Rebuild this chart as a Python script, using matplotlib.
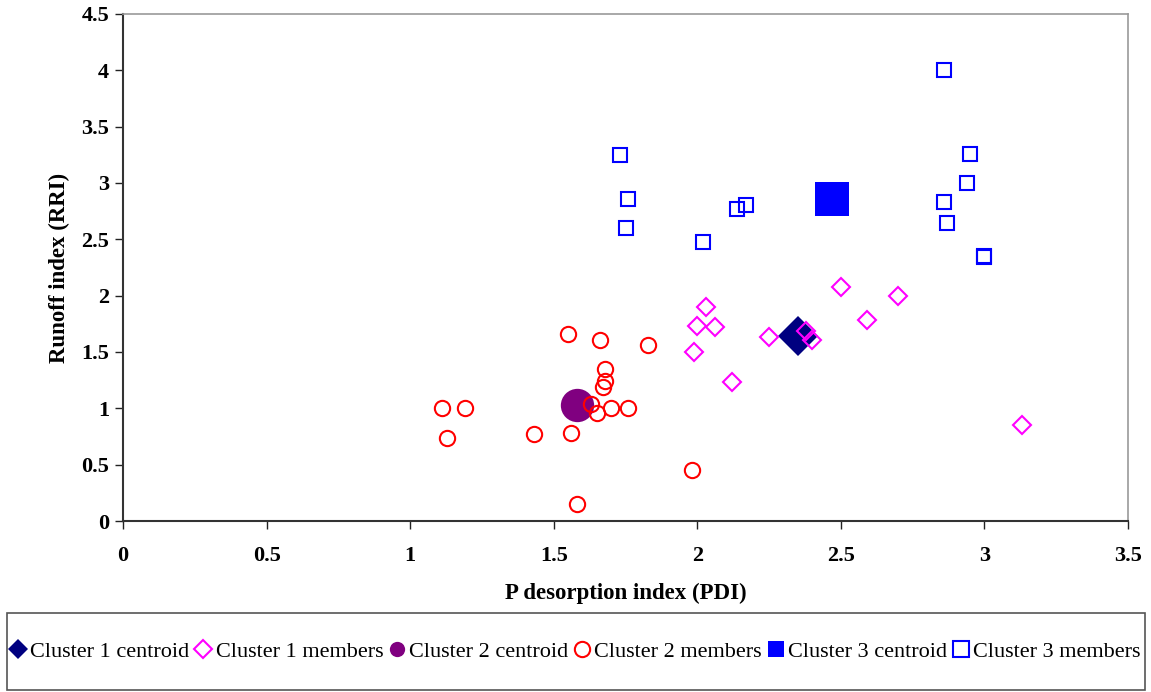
import matplotlib.pyplot as plt
from matplotlib.patches import Rectangle

plt.rcParams['font.family'] = ['Liberation Serif', 'DejaVu Serif']

# cluster 1 (magenta diamonds)
c1_centroid = (2.35, 1.64)
c1_x = [2.03, 2.00, 2.06, 1.99, 2.12, 2.25, 2.38, 2.40, 2.50, 2.59, 2.70, 3.13]
c1_y = [1.90, 1.73, 1.72, 1.50, 1.23, 1.63, 1.69, 1.61, 2.08, 1.78, 2.00, 0.85]

# cluster 2 (red circles)
c2_centroid = (1.58, 1.03)
c2_x = [1.55, 1.66, 1.83, 1.68, 1.68, 1.67, 1.63, 1.65, 1.70, 1.76,
        1.11, 1.19, 1.13, 1.43, 1.56, 1.98, 1.58]
c2_y = [1.66, 1.61, 1.56, 1.35, 1.24, 1.19, 1.04, 0.96, 1.00, 1.00,
        1.00, 1.00, 0.74, 0.77, 0.78, 0.45, 0.15]

# cluster 3 (blue squares)
c3_centroid = (2.47, 2.86)
c3_x = [1.73, 1.76, 1.75, 2.02, 2.14, 2.17, 2.86, 2.95, 2.94, 2.86, 2.87, 3.00, 3.00]
c3_y = [3.25, 2.86, 2.60, 2.48, 2.77, 2.80, 4.00, 3.26, 3.00, 2.83, 2.64, 2.35, 2.34]

x_ticks = [0, 0.5, 1, 1.5, 2, 2.5, 3, 3.5]
y_ticks = [0, 0.5, 1, 1.5, 2, 2.5, 3, 3.5, 4, 4.5]

fig = plt.figure(figsize=(11.51, 6.92), dpi=100)
ax = fig.add_axes([0.1069, 0.247, 0.9800 - 0.1069, 0.733])

ms_small = 11
ms_big = 24
ax.plot(*c1_centroid, 'D', color='#000080', ms=ms_big * 0.85, mew=0,
        linestyle='none', label='Cluster 1 centroid', zorder=3)
ax.plot(c1_x, c1_y, 'D', mfc='none', mec='#FF00FF', ms=ms_small * 0.8, mew=1.5,
        linestyle='none', label='Cluster 1 members', zorder=4)
ax.plot(*c2_centroid, 'o', color='#800080', ms=ms_big, mew=0,
        linestyle='none', label='Cluster 2 centroid', zorder=3)
ax.plot(c2_x, c2_y, 'o', mfc='none', mec='#FF0000', ms=ms_small, mew=1.5,
        linestyle='none', label='Cluster 2 members', zorder=4)
ax.plot(*c3_centroid, 's', color='#0000FF', ms=ms_big, mew=0,
        linestyle='none', label='Cluster 3 centroid', zorder=3)
ax.plot(c3_x, c3_y, 's', mfc='none', mec='#0000FF', ms=ms_small * 0.95, mew=1.5,
        linestyle='none', label='Cluster 3 members', zorder=4)

ax.set_xlim(0, 3.5)
ax.set_ylim(0, 4.5)
ax.set_xticks(x_ticks)
ax.set_xticklabels(['0', '0.5', '1', '1.5', '2', '2.5', '3', '3.5'])
ax.set_yticks(y_ticks)
ax.set_yticklabels(['0', '0.5', '1', '1.5', '2', '2.5', '3', '3.5', '4', '4.5'])
ax.tick_params(direction='out', length=6, width=1, colors='#222222', labelsize=16)
ax.tick_params(axis='x', pad=12)
ax.tick_params(axis='y', pad=4)
for lab in ax.get_xticklabels() + ax.get_yticklabels():
    lab.set_fontweight('bold')
    lab.set_color('black')

for s in ('left', 'bottom'):
    ax.spines[s].set_color('#333333')
    ax.spines[s].set_linewidth(1.5)
for s in ('top', 'right'):
    ax.spines[s].set_color('#999999')
    ax.spines[s].set_linewidth(1.2)

ax.set_xlabel('P desorption index (PDI)', fontsize=16.5, fontweight='bold', labelpad=12)
ax.set_ylabel('Runoff index (RRI)', fontsize=16.5, fontweight='bold', labelpad=8)

# legend box drawn separately so its height can match the original
box = (7 / 1151, 2 / 692, 1138 / 1151, 77 / 692)
fig.patches.append(Rectangle(box[:2], box[2], box[3], transform=fig.transFigure,
                             fill=False, edgecolor='#555555', linewidth=1.2))

handles, labels = ax.get_legend_handles_labels()
leg = fig.legend(handles, labels, loc='center', ncol=6, mode='expand',
                 bbox_to_anchor=box, fontsize=16, frameon=False,
                 handlelength=0.6, handletextpad=0.25, columnspacing=0.3,
                 borderpad=0.2, borderaxespad=0)
for h, size in zip(leg.legend_handles, [10, 9, 11, 11, 11, 11]):
    h.set_markersize(size)

fig.savefig('out.png', dpi=100)
